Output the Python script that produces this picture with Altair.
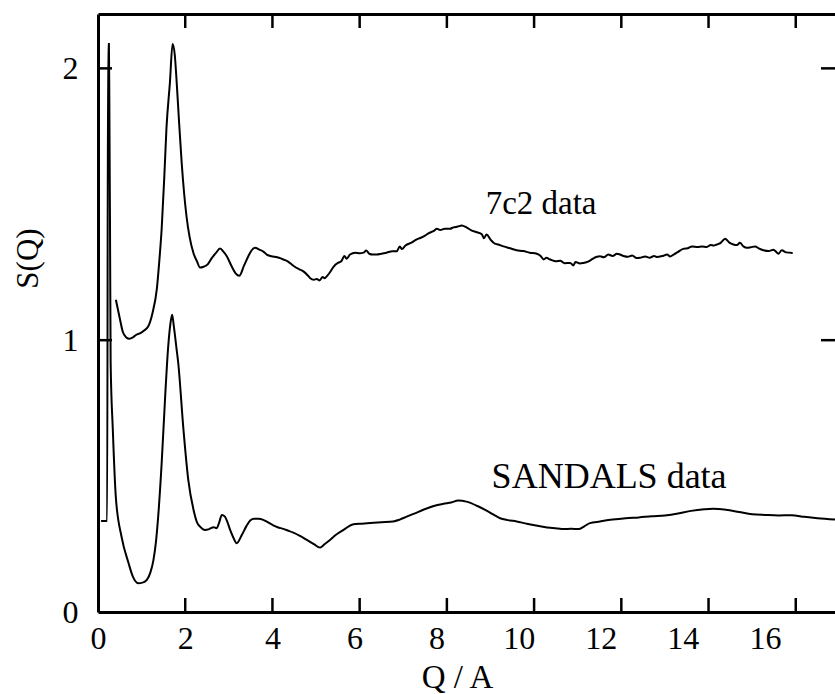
import altair as alt
import pandas as pd

# ---- data ----
q_7c2 = [0.41, 0.50, 0.57, 0.65, 0.72, 0.80, 0.88, 0.96, 1.05, 1.15, 1.25, 1.35, 1.41, 1.46, 1.52,
         1.57, 1.65, 1.71, 1.76, 1.80, 1.86, 1.92, 2.03, 2.10, 2.19, 2.27, 2.34, 2.42, 2.52, 2.60,
         2.70, 2.80, 2.88, 2.95, 3.07, 3.16, 3.24, 3.35, 3.45, 3.52, 3.60, 3.70, 3.80, 3.87, 3.95,
         4.05, 4.15, 4.25, 4.35, 4.48, 4.60, 4.71, 4.80, 4.86, 4.95, 5.02, 5.08, 5.15, 5.20, 5.24,
         5.32, 5.40, 5.51, 5.58, 5.65, 5.70, 5.78, 5.90, 6.00, 6.09, 6.15, 6.22, 6.30, 6.39, 6.50,
         6.62, 6.75, 6.85, 6.92, 6.97, 7.05, 7.20, 7.30, 7.39, 7.50, 7.60, 7.70, 7.77, 7.85, 7.95,
         8.07, 8.15, 8.25, 8.34, 8.45, 8.55, 8.69, 8.80, 8.85, 8.91, 9.00, 9.10, 9.18, 9.30, 9.45,
         9.60, 9.75, 9.90, 10.06, 10.15, 10.22, 10.28, 10.37, 10.50, 10.60, 10.70, 10.83, 10.90,
         10.95, 11.05, 11.13, 11.25, 11.35, 11.44, 11.51, 11.60, 11.70, 11.80, 11.90, 11.97, 12.05,
         12.15, 12.25, 12.35, 12.43, 12.55, 12.65, 12.75, 12.81, 12.95, 13.05, 13.12, 13.20, 13.30,
         13.42, 13.52, 13.62, 13.75, 13.85, 13.96, 14.05, 14.12, 14.19, 14.28, 14.38, 14.47, 14.57,
         14.65, 14.72, 14.80, 14.88, 14.97, 15.07, 15.15, 15.26, 15.38, 15.49, 15.55, 15.60, 15.68,
         15.78, 15.93]
s_7c2 = [1.149, 1.08, 1.03, 1.01, 1.005, 1.01, 1.02, 1.025, 1.035, 1.05, 1.10, 1.19, 1.30, 1.41, 1.60,
         1.78, 1.95, 2.09, 2.05, 1.96, 1.80, 1.65, 1.455, 1.38, 1.32, 1.29, 1.267, 1.27, 1.28, 1.30,
         1.32, 1.337, 1.325, 1.31, 1.27, 1.245, 1.237, 1.275, 1.31, 1.33, 1.34, 1.333, 1.325, 1.315, 1.31,
         1.307, 1.303, 1.297, 1.29, 1.274, 1.262, 1.253, 1.24, 1.229, 1.222, 1.225, 1.22, 1.232, 1.228, 1.234,
         1.25, 1.27, 1.285, 1.29, 1.31, 1.30, 1.315, 1.322, 1.32, 1.322, 1.33, 1.318, 1.315, 1.315, 1.318,
         1.322, 1.327, 1.327, 1.345, 1.335, 1.348, 1.36, 1.37, 1.376, 1.385, 1.395, 1.402, 1.41, 1.405, 1.41,
         1.41, 1.415, 1.418, 1.422, 1.415, 1.405, 1.397, 1.39, 1.375, 1.389, 1.37, 1.355, 1.352, 1.345, 1.338,
         1.331, 1.328, 1.322, 1.318, 1.31, 1.297, 1.303, 1.297, 1.29, 1.292, 1.283, 1.284, 1.275,
         1.288, 1.282, 1.284, 1.29, 1.30, 1.307, 1.309, 1.305, 1.315, 1.31, 1.318, 1.315, 1.31,
         1.307, 1.312, 1.302, 1.303, 1.308, 1.303, 1.31, 1.306, 1.31, 1.315, 1.308, 1.315, 1.325,
         1.336, 1.338, 1.345, 1.343, 1.345, 1.343, 1.35, 1.348, 1.352, 1.358, 1.373, 1.36, 1.352,
         1.35, 1.358, 1.345, 1.34, 1.342, 1.345, 1.338, 1.331, 1.328, 1.333, 1.325, 1.318, 1.331,
         1.323, 1.321]

q_sandals = [0.07, 0.21, 0.23, 0.25, 0.26, 0.275, 0.29, 0.34, 0.41, 0.54, 0.70, 0.80, 0.92, 1.02, 1.12,
             1.20, 1.27, 1.33, 1.38, 1.46, 1.54, 1.61, 1.66, 1.70, 1.74, 1.80, 1.84, 1.96, 2.07, 2.19,
             2.27, 2.34, 2.45, 2.55, 2.65, 2.72, 2.78, 2.84, 2.91, 2.97, 3.03, 3.10, 3.18, 3.30, 3.40,
             3.49, 3.58, 3.68, 3.79, 3.90, 4.02, 4.12, 4.25, 4.35, 4.48, 4.63, 4.79, 4.95, 5.09, 5.20,
             5.32, 5.45, 5.63, 5.75, 5.86, 6.05, 6.24, 6.50, 6.77, 6.92, 7.08, 7.25, 7.46, 7.70, 7.92,
             8.10, 8.26, 8.45, 8.70, 8.91, 9.05, 9.22, 9.40, 9.60, 9.80, 9.98, 10.20, 10.37, 10.55,
             10.67, 10.85, 11.02, 11.15, 11.28, 11.51, 11.80, 12.10, 12.40, 12.70, 13.00, 13.30, 13.60,
             13.90, 14.10, 14.40, 14.70, 15.00, 15.30, 15.60, 15.90, 16.20, 16.50, 16.90]
s_sandals = [0.335, 0.335, 2.09, 2.09, 1.88, 1.43, 0.917, 0.67, 0.42, 0.277, 0.18, 0.13, 0.106, 0.108, 0.118,
             0.145, 0.19, 0.26, 0.351, 0.548, 0.793, 0.977, 1.06, 1.094, 1.05, 0.97, 0.916, 0.67, 0.486, 0.376,
             0.33, 0.314, 0.302, 0.305, 0.312, 0.308, 0.33, 0.357, 0.351, 0.33, 0.302, 0.275, 0.253, 0.284, 0.315,
             0.337, 0.343, 0.343, 0.339, 0.33, 0.319, 0.312, 0.306, 0.30, 0.292, 0.28, 0.265, 0.25, 0.237, 0.25,
             0.265, 0.283, 0.302, 0.315, 0.323, 0.325, 0.327, 0.33, 0.333, 0.34, 0.351, 0.362, 0.376, 0.39, 0.398,
             0.403, 0.41, 0.406, 0.39, 0.373, 0.36, 0.345, 0.338, 0.333, 0.326, 0.32, 0.314, 0.31, 0.307,
             0.305, 0.306, 0.305, 0.315, 0.327, 0.333, 0.34, 0.345, 0.348, 0.352, 0.355, 0.362, 0.372,
             0.378, 0.38, 0.376, 0.368, 0.36, 0.357, 0.355, 0.356, 0.35, 0.345, 0.34]

x_label_values = [0, 2, 4, 6, 8, 10, 12, 14, 16]
x_tick_values = [2, 4, 6, 8, 10, 12, 14, 16]
y_label_values = [0, 1, 2]
y_tick_values = [1, 2]

annot1_text, annot1_q, annot1_s = ["7c2 data"], [10.16], [1.466]
annot2_text, annot2_q, annot2_s = ["SANDALS data"], [11.72], [0.457]

X_MAX = 16.9
Y_MAX = 2.2
FONT = "Liberation Serif"

# ---- tables ----
curves = pd.concat([
    pd.DataFrame({"q": q_7c2, "s": s_7c2, "series": "7c2", "idx": range(len(q_7c2))}),
    pd.DataFrame({"q": q_sandals, "s": s_sandals, "series": "SANDALS", "idx": range(len(q_sandals))}),
], ignore_index=True)

xticks_df = pd.DataFrame({"q": x_tick_values * 2,
                          "s": [0.0] * len(x_tick_values) + [Y_MAX] * len(x_tick_values)})
yticks_df = pd.DataFrame({"q": [0.0] * len(y_tick_values) + [X_MAX] * len(y_tick_values),
                          "s": y_tick_values * 2})
annot1_df = pd.DataFrame({"label": annot1_text, "q": annot1_q, "s": annot1_s})
annot2_df = pd.DataFrame({"label": annot2_text, "q": annot2_q, "s": annot2_s})

xs = alt.Scale(domain=[0, X_MAX], nice=False, zero=False)
ys = alt.Scale(domain=[0, Y_MAX], nice=False, zero=False)

lines = alt.Chart(curves).mark_line(
    color="black", strokeWidth=2, clip=True, interpolate="monotone"
).encode(
    x=alt.X("q:Q", scale=xs, axis=alt.Axis(
        orient="bottom", values=x_label_values, ticks=False, domain=True, format="d",
        domainColor="black", domainWidth=3, grid=False, labelFlush=False,
        labelPadding=11, labelFontSize=32, labelFont=FONT, labelColor="black",
        labelOffset={"condition": {"test": "datum.value < 4", "value": 0},
                     "expr": "-(datum.value - 4) * 2.57"},
        title="Q / A", titleFont=FONT, titleFontSize=33, titleFontWeight="normal",
        titleColor="black", titleX=359, titleY=75, titleBaseline="alphabetic",
        titleAlign="center")),
    y=alt.Y("s:Q", scale=ys, axis=alt.Axis(
        orient="left", values=y_label_values, ticks=False, domain=True, format="d",
        domainColor="black", domainWidth=3, grid=False, labelFlush=False,
        labelPadding=20, labelFontSize=32, labelFont=FONT, labelColor="black",
        title="S(Q)", titleFont=FONT, titleFontSize=31, titleFontWeight="normal",
        titleColor="black", titleX=-70, titleY=244, titleAngle=270,
        titleAlign="center", titleBaseline="middle")),
    detail="series:N",
    order=alt.Order("idx:Q"),
)

xticks = alt.Chart(xticks_df).mark_tick(
    orient="vertical", size=28, thickness=2.5, color="black", clip=True, opacity=1
).encode(
    x=alt.X("q:Q", scale=xs, axis=alt.Axis(
        orient="top", labels=False, ticks=False, domain=True, domainColor="black",
        domainWidth=3, grid=False, title=None)),
    y=alt.Y("s:Q", scale=ys),
)

yticks = alt.Chart(yticks_df).mark_tick(
    orient="horizontal", size=28, thickness=2.5, color="black", clip=True, opacity=1
).encode(
    x=alt.X("q:Q", scale=xs, axis=None),
    y=alt.Y("s:Q", scale=ys),
)

annot1 = alt.Chart(annot1_df).mark_text(
    font=FONT, fontSize=33, color="black", align="center", baseline="alphabetic"
).encode(
    x=alt.X("q:Q", scale=xs, axis=None),
    y=alt.Y("s:Q", scale=ys),
    text="label:N",
)

annot2 = alt.Chart(annot2_df).mark_text(
    font=FONT, fontSize=36, color="black", align="center", baseline="alphabetic"
).encode(
    x=alt.X("q:Q", scale=xs, axis=None),
    y=alt.Y("s:Q", scale=ys),
    text="label:N",
)

chart = alt.layer(lines, xticks, yticks, annot1, annot2).resolve_scale(
    x="independent"
).properties(
    width=737, height=598,
    autosize=alt.AutoSizeParams(type="none"),
    padding={"left": 98, "top": 14, "right": 0, "bottom": 82},
    background="white",
).configure_view(stroke=None)

chart.save("out.html", embed_options={"renderer": "svg", "actions": False})
